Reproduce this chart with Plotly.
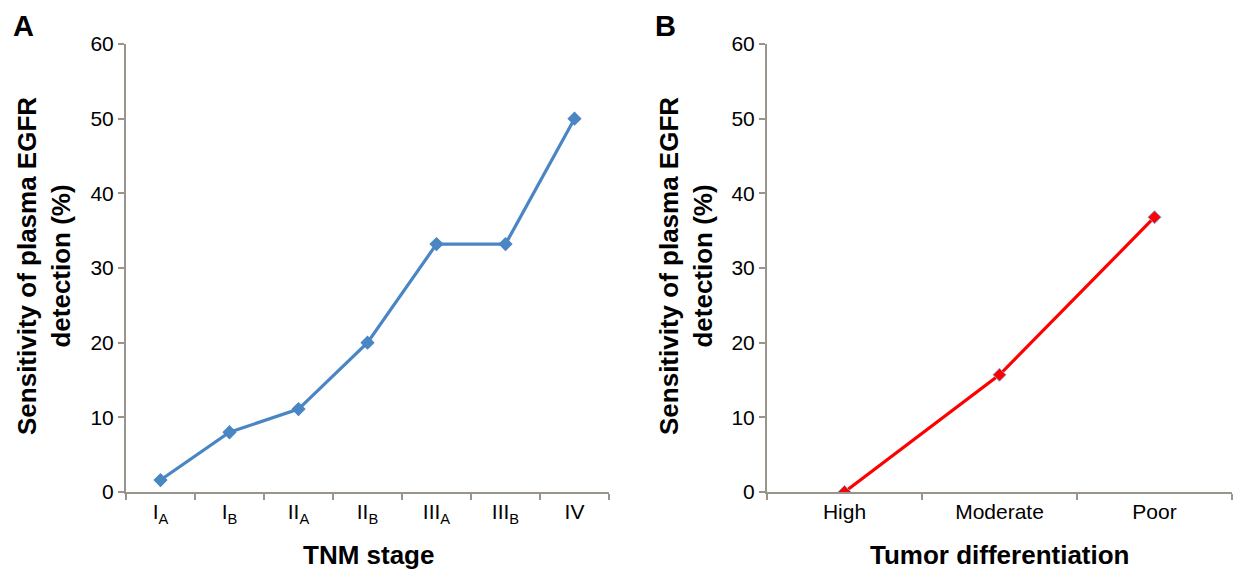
import plotly.graph_objects as go

stages = ["I<sub>A</sub>", "I<sub>B</sub>", "II<sub>A</sub>", "II<sub>B</sub>",
          "III<sub>A</sub>", "III<sub>B</sub>", "IV"]
stage_vals = [1.6, 8.0, 11.1, 20.0, 33.2, 33.2, 50.0]

diff_cats = ["High", "Moderate", "Poor"]
diff_vals = [0.0, 15.7, 36.8]

y_ticks = [0, 10, 20, 30, 40, 50, 60]

W, H = 1233, 569
FONT = "Liberation Sans, Arial, sans-serif"
AX = "#9a958c"

fig = go.Figure()
fig.add_trace(go.Scatter(
    x=stages, y=stage_vals, mode="lines+markers", xaxis="x", yaxis="y",
    line=dict(color="#4a85c4", width=3.2),
    marker=dict(symbol="diamond", size=11, color="#4a85c4"),
    showlegend=False))
fig.add_trace(go.Scatter(
    x=diff_cats, y=diff_vals, mode="lines+markers", xaxis="x2", yaxis="y2",
    line=dict(color="#ff0000", width=3.2),
    marker=dict(symbol="diamond", size=10, color="#ff0000",
                line=dict(color="#7fa3d6", width=1)),
    showlegend=False))

ydom = [1 - 492 / H, 1 - 44 / H]
common_x = dict(type="category", showline=True, linecolor=AX, linewidth=2,
                ticks="outside", tickcolor=AX, ticklen=6, tickwidth=2,
                tickson="boundaries", showgrid=False, zeroline=False,
                tickfont=dict(family=FONT, size=21, color="black"),
                automargin=False, fixedrange=True)
common_y = dict(range=[0, 60], tickvals=y_ticks, showline=True, linecolor=AX,
                linewidth=2, ticks="outside", tickcolor=AX, ticklen=6,
                tickwidth=2, showgrid=False, zeroline=False, domain=ydom,
                tickfont=dict(family=FONT, size=21, color="black"),
                automargin=False, fixedrange=True)

fig.update_layout(
    width=W, height=H,
    margin=dict(l=0, r=0, t=0, b=0),
    paper_bgcolor="white", plot_bgcolor="white",
    font=dict(family=FONT, color="black"),
    xaxis=dict(domain=[126 / W, 609 / W], anchor="y", range=[-0.5, 6.5], **common_x),
    yaxis=dict(anchor="x", **common_y),
    xaxis2=dict(domain=[767 / W, 1232 / W], anchor="y2", range=[-0.5, 2.5], **common_x),
    yaxis2=dict(anchor="x2", **common_y),
)

ytitle = "Sensitivity of plasma EGFR<br>detection (%)"
ann = [
    dict(text="<b>A</b>", x=23 / W, y=1 - 26 / H, font=dict(size=29)),
    dict(text="<b>B</b>", x=665 / W, y=1 - 26 / H, font=dict(size=29)),
    dict(text="<b>TNM stage</b>", x=368 / W, y=1 - 555 / H, font=dict(size=26)),
    dict(text="<b>Tumor differentiation</b>", x=1000 / W, y=1 - 555 / H, font=dict(size=26)),
    dict(text="<b>" + ytitle + "</b>", x=44 / W, y=1 - 266 / H, textangle=-90,
         font=dict(size=26)),
    dict(text="<b>" + ytitle + "</b>", x=686 / W, y=1 - 266 / H, textangle=-90,
         font=dict(size=26)),
]
for a in ann:
    a.update(xref="paper", yref="paper", showarrow=False, xanchor="center",
             yanchor="middle")
    a["font"].update(family=FONT, color="black")
fig.update_layout(annotations=ann)

fig.write_html("out.html", config={"displayModeBar": False},
               post_script="document.body.style.margin='0';document.body.style.overflow='hidden';")
